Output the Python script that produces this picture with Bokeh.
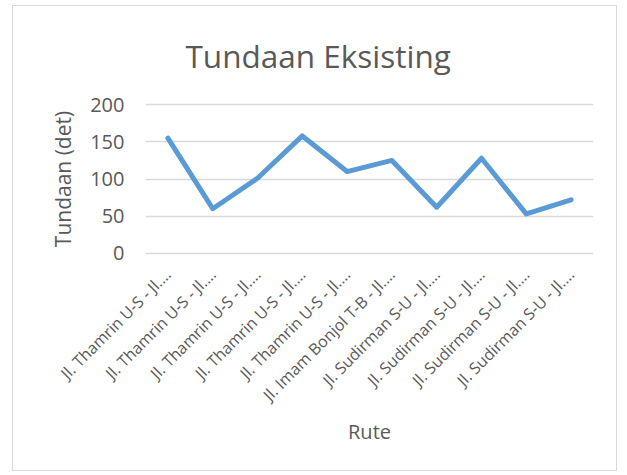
from bokeh.plotting import figure
from bokeh.models import FixedTicker, Range1d
from bokeh.embed import file_html
from bokeh.resources import INLINE

chart_title = "Tundaan Eksisting"
routes = [
    "Jl. Thamrin U-S - Jl.…",
    "Jl. Thamrin U-S - Jl.…",
    "Jl. Thamrin U-S - Jl.…",
    "Jl. Thamrin U-S - Jl.…",
    "Jl. Thamrin U-S - Jl.…",
    "Jl. Imam Bonjol T-B - Jl.…",
    "Jl. Sudirman S-U - Jl.…",
    "Jl. Sudirman S-U - Jl.…",
    "Jl. Sudirman S-U - Jl.…",
    "Jl. Sudirman S-U - Jl.…",
]
tundaan = [155, 60, 101, 158, 110, 125, 62, 128, 53, 72]
y_ticks = [0, 50, 100, 150, 200]

xs = list(range(len(routes)))
FONT = "Open Sans"
TXT = "#595959"

p = figure(width=605, height=466, output_backend="svg", toolbar_location=None,
           x_range=Range1d(-0.5, len(routes) - 0.5), y_range=Range1d(-3, 203),
           title=chart_title)
p.styles = {"border": "1.5px solid #d9d9d9", "margin-left": "12px", "margin-top": "5px"}

p.min_border_left = 132
p.min_border_right = 25
p.min_border_top = 96
p.min_border_bottom = 217

p.title.align = "left"
p.title.offset = 40
p.title.text_font = FONT
p.title.text_font_size = "31.5px"
p.title.text_font_style = "normal"
p.title.text_color = TXT
p.title.standoff = 51

p.line(xs, tundaan, line_color="#5b9bd5", line_width=5, line_join="round", line_cap="round")

p.xgrid.visible = False
p.ygrid.grid_line_color = "#d9d9d9"
p.ygrid.grid_line_width = 1.5
p.outline_line_color = None

p.yaxis.ticker = FixedTicker(ticks=y_ticks)
p.yaxis.axis_line_color = None
p.yaxis.major_tick_line_color = None
p.yaxis.minor_tick_line_color = None
p.yaxis.major_label_text_font = FONT
p.yaxis.major_label_text_font_size = "20px"
p.yaxis.major_label_text_color = TXT
p.yaxis.major_label_standoff = 15
p.yaxis.axis_label = "Tundaan (det)"
p.yaxis.axis_label_text_font = FONT
p.yaxis.axis_label_text_font_size = "21px"
p.yaxis.axis_label_text_font_style = "normal"
p.yaxis.axis_label_text_color = TXT
p.yaxis.axis_label_standoff = 10

p.xaxis.ticker = FixedTicker(ticks=xs)
p.xaxis.major_label_overrides = {i: r for i, r in zip(xs, routes)}
p.xaxis.major_label_orientation = 0.785398
p.xaxis.axis_line_color = None
p.xaxis.major_tick_line_color = None
p.xaxis.minor_tick_line_color = None
p.xaxis.major_label_text_font = FONT
p.xaxis.major_label_text_font_size = "16px"
p.xaxis.major_label_text_color = TXT
p.xaxis.major_label_standoff = 10
p.xaxis.axis_label = "Rute"
p.xaxis.axis_label_text_font = FONT
p.xaxis.axis_label_text_font_size = "20px"
p.xaxis.axis_label_text_font_style = "normal"
p.xaxis.axis_label_text_color = TXT
p.xaxis.axis_label_standoff = 2

open("out.html", "w").write(file_html(p, INLINE))
